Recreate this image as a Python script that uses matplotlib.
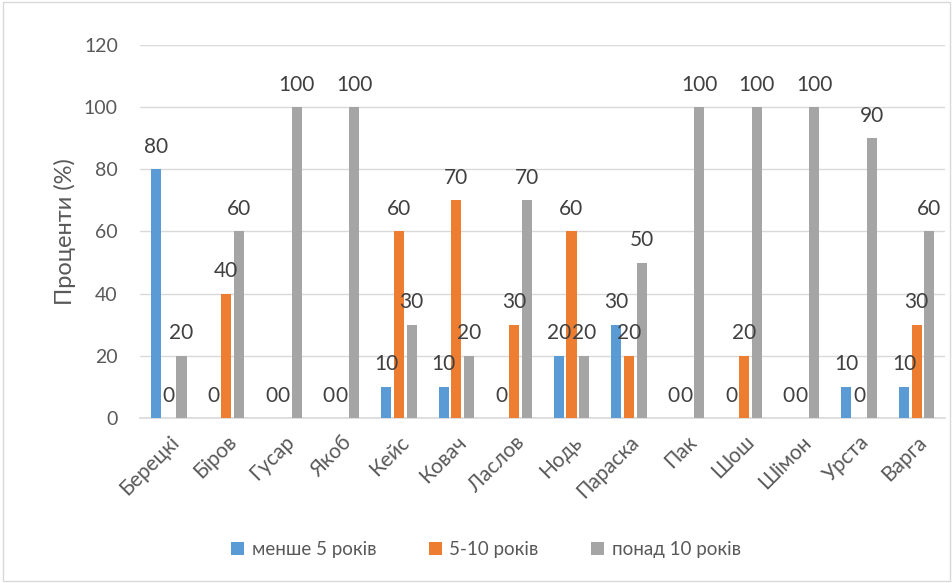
import matplotlib
matplotlib.use("Agg")
import matplotlib.pyplot as plt
import numpy as np
from matplotlib.patches import Rectangle

categories = ["Берецкі", "Біров", "Гусар", "Якоб", "Кейс", "Ковач", "Ласлов",
              "Нодь", "Параска", "Пак", "Шош", "Шімон", "Урста", "Варга"]
less5 = [80, 0, 0, 0, 10, 10, 0, 20, 30, 0, 0, 0, 10, 10]
mid = [0, 40, 0, 0, 60, 70, 30, 60, 20, 0, 20, 0, 0, 30]
over10 = [20, 60, 100, 100, 30, 20, 70, 20, 50, 100, 100, 100, 90, 60]
series_names = ["менше 5 років", "5-10 років", "понад 10 років"]
colors = ["#5B9BD5", "#ED7D31", "#A5A5A5"]
yticks = [0, 20, 40, 60, 80, 100, 120]

plt.rcParams['font.family'] = ['Lato', 'DejaVu Sans']
txt = "#595959"

fig = plt.figure(figsize=(9.53, 5.83), dpi=100)
ax = fig.add_axes([0.147, 0.283, 0.845, 0.640])

x = np.arange(len(categories))
w = 0.175
off = 0.22
for i, (vals, c, n) in enumerate(zip([less5, mid, over10], colors, series_names)):
    pos = x + (i - 1) * off
    ax.bar(pos, vals, width=w, color=c, label=n, zorder=3)
    for p, v in zip(pos, vals):
        ax.text(p, v + 4, str(v), ha="center", va="bottom", fontsize=15, color="#404040", zorder=4)

ax.set_xlim(-0.5, len(categories) - 0.5)
ax.set_ylim(0, 120)
ax.set_yticks(yticks)
ax.set_yticklabels([str(t) for t in yticks], fontsize=14, color=txt)
ax.set_xticks(x)
ax.set_xticklabels(categories, rotation=45, ha="right", rotation_mode="anchor", fontsize=15, color=txt)
ax.tick_params(axis="y", length=0, pad=16)
ax.tick_params(axis="x", length=0, pad=10)
ax.grid(axis="y", color="#D9D9D9", linewidth=1, zorder=0)
for s in ["top", "right", "left"]:
    ax.spines[s].set_visible(False)
ax.spines["bottom"].set_color("#D9D9D9")
ax.spines["bottom"].set_linewidth(1.2)
ax.set_ylabel("Проценти (%)", fontsize=17, color=txt, labelpad=6)

leg = fig.legend(loc="center", bbox_to_anchor=(0.51, 0.057), ncol=3, frameon=False,
                 fontsize=13.5, handlelength=0.7, handleheight=0.7, columnspacing=2.8,
                 handletextpad=0.4)
for t in leg.get_texts():
    t.set_color(txt)

fig.patches.append(Rectangle((0.003, 0.004), 0.994, 0.992, transform=fig.transFigure,
                             fill=False, edgecolor="#D9D9D9", linewidth=1))

fig.savefig("out.png", dpi=100)
